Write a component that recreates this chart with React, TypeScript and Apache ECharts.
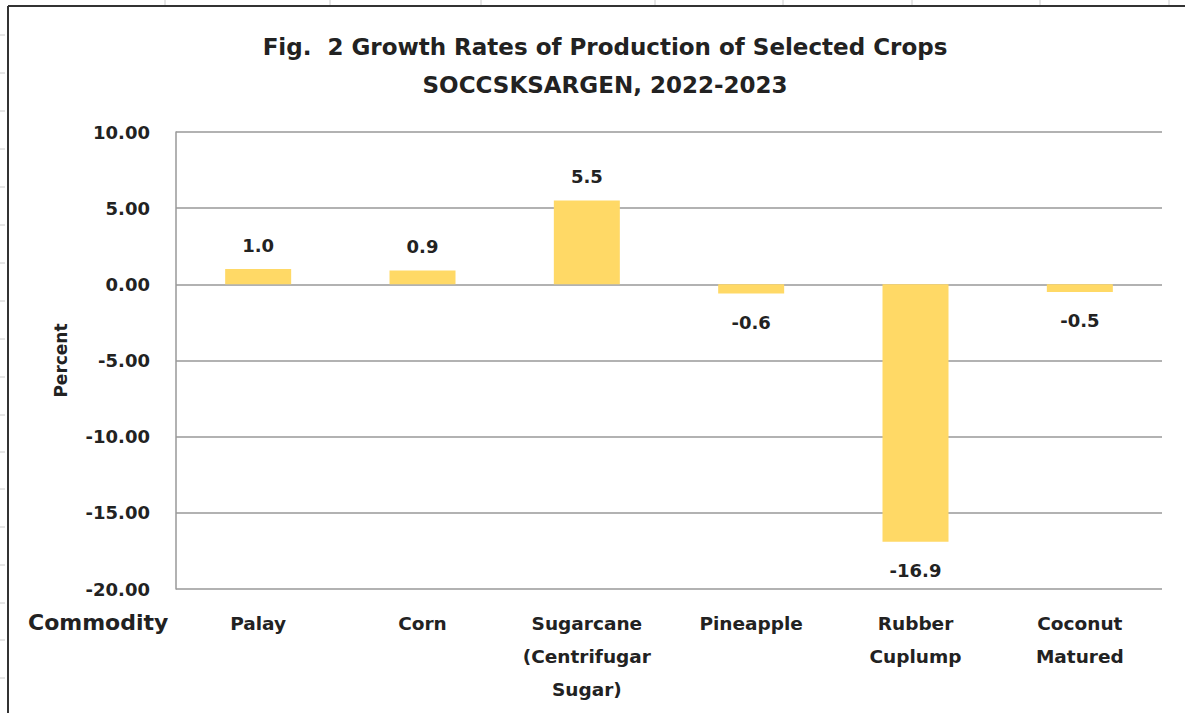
import React, { useEffect, useRef } from "react";
import * as echarts from "echarts";

const categories = ["Palay", "Corn", "Sugarcane\n(Centrifugar\nSugar)", "Pineapple", "Rubber\nCuplump", "Coconut\nMatured"];
const growthRates = [1.0, 0.9, 5.5, -0.6, -16.9, -0.5];
const yTicks = { min: -20, max: 10, interval: 5 };
const sheetColTicks = [165, 330, 481, 655, 783, 912, 1040, 1169];
const sheetRowTicks = [35, 73, 111, 149, 187, 225, 263, 301, 339, 377, 415, 452, 489, 527, 565, 603, 640, 678];

const FONT = "DejaVu Sans";

export default function App() {
  const ref = useRef<HTMLDivElement>(null);
  useEffect(() => {
    const chart = echarts.init(ref.current!, null, { renderer: "svg" });
    const graphics: any[] = [
      { type: "line", shape: { x1: 8, y1: 6, x2: 1185, y2: 6 }, style: { stroke: "#333", lineWidth: 2 } },
      { type: "line", shape: { x1: 8, y1: 6, x2: 8, y2: 713 }, style: { stroke: "#333", lineWidth: 2 } },
      {
        type: "text",
        left: 28,
        top: 611,
        style: { text: "Commodity", font: `bold 22px "${FONT}"`, fill: "#222" },
      },
    ];
    sheetColTicks.forEach((x) =>
      graphics.push({ type: "line", shape: { x1: x, y1: 0, x2: x, y2: 5 }, style: { stroke: "#ccc", lineWidth: 1 } })
    );
    sheetRowTicks.forEach((y) =>
      graphics.push({ type: "line", shape: { x1: 0, y1: y, x2: 5, y2: y }, style: { stroke: "#ccc", lineWidth: 1 } })
    );
    chart.setOption({
      animation: false,
      backgroundColor: "#fff",
      title: {
        text: "Fig.  2 Growth Rates of Production of Selected Crops\nSOCCSKSARGEN, 2022-2023",
        left: 600,
        top: 23,
        textAlign: "center",
        textStyle: { fontFamily: FONT, fontWeight: "bold", fontSize: 23, lineHeight: 38, color: "#222" },
      },
      grid: { left: 176, top: 132, right: 23, bottom: 124 },
      xAxis: {
        type: "category",
        data: categories,
        axisLine: { show: false },
        axisTick: { show: false },
        axisLabel: {
          interval: 0,
          margin: 18,
          fontFamily: FONT,
          fontWeight: "bold",
          fontSize: 18.5,
          lineHeight: 33,
          color: "#222",
          verticalAlign: "top",
        },
      },
      yAxis: {
        type: "value",
        min: yTicks.min,
        max: yTicks.max,
        interval: yTicks.interval,
        name: "Percent",
        nameLocation: "middle",
        nameRotate: 90,
        nameGap: 107,
        nameTextStyle: { fontFamily: FONT, fontWeight: "bold", fontSize: 17, color: "#222" },
        axisLine: { show: true, lineStyle: { color: "#999", width: 1.5 } },
        axisTick: { show: false },
        splitLine: { lineStyle: { color: "#999", width: 1.5 } },
        axisLabel: {
          margin: 26,
          fontFamily: FONT,
          fontWeight: "bold",
          fontSize: 18,
          color: "#222",
          formatter: (v: number) => v.toFixed(2),
        },
      },
      series: [
        {
          type: "bar",
          barWidth: 66,
          itemStyle: { color: "#FFD966" },
          data: growthRates.map((v) => ({
            value: v,
            label: { position: v >= 0 ? "top" : "bottom", distance: v >= 0 ? 15 : 20 },
          })),
          label: {
            show: true,
            fontFamily: FONT,
            fontWeight: "bold",
            fontSize: 18,
            color: "#222",
            formatter: (p: any) => Number(p.value).toFixed(1),
          },
        },
      ],
      graphic: graphics,
    });
    return () => chart.dispose();
  }, []);
  return <div ref={ref} style={{ position: "absolute", left: 0, top: 0, width: 1185, height: 713 }} />;
}
